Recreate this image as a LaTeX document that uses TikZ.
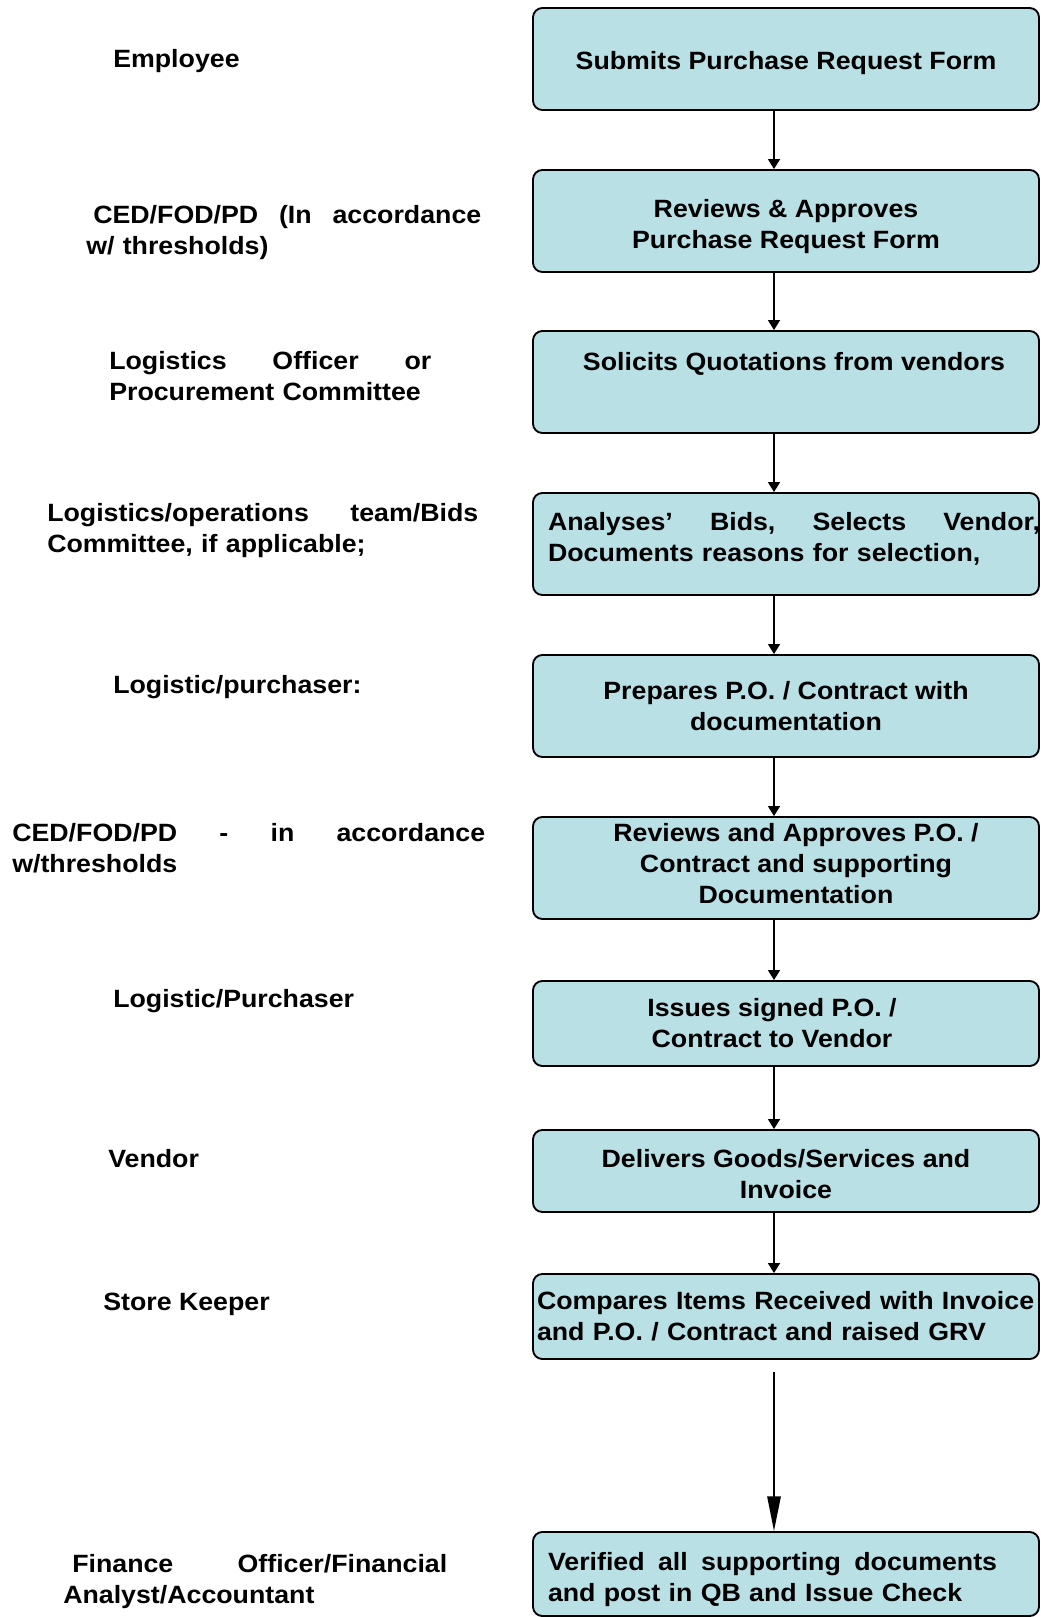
\documentclass[tikz,border=0pt]{standalone}
\usepackage{fontspec}
\setmainfont{Liberation Sans}[FakeStretch=1.07]
\usetikzlibrary{positioning, shapes.geometric, arrows.meta}
\definecolor{boxcyan}{RGB}{185,224,228}

\begin{document}
\begin{tikzpicture} [x=0.75pt, y=-0.75pt,
  stepbox/.style={rectangle, rounded corners=7pt, draw, line width=1.4pt, fill=boxcyan,
    minimum width=379.5pt, minimum height=76.5pt, inner sep=0pt, align=center,
    font=\bfseries\fontsize{18.75}{23.25}\selectfont},
  role/.style={anchor=north west, inner sep=0pt, align=left,
    font=\bfseries\fontsize{18.75}{23.25}\selectfont},
  flow/.style={-{Triangle[length=7.5pt, width=9pt]}, line width=1pt}]
  \useasboundingbox (0,0) rectangle (1040,1617);

  % who does it
  \draw (113,49)   node[role](emp) {Employee};
  \draw (86,205)   node[role, text width=296.25pt](ced) {\hspace*{5.25pt}CED/FOD/PD\hfill (In\hfill accordance\\w/ thresholds)};
  \draw (109,351)  node[role, text width=241.5pt](logoff) {Logistics\hfill Officer\hfill or\\Procurement Committee};
  \draw (47,503)   node[role, text width=323.25pt](logops) {Logistics/operations\hfill team/Bids\\Committee, if applicable;};
  \draw (113,675)  node[role](purch) {Logistic/purchaser:};
  \draw (12,823)   node[role, text width=354.75pt](cedtwo) {CED/FOD/PD\hfill -\hfill in\hfill accordance\\w/thresholds};
  \draw (113,989)  node[role](purchtwo) {Logistic/Purchaser};
  \draw (108,1149) node[role](vnd) {Vendor};
  \draw (103,1293) node[role](store) {Store Keeper};
  \draw (63,1554)  node[role, text width=288pt](fin) {\hspace*{6.75pt}Finance\hfill Officer/Financial\\Analyst/Accountant};

  % what is done
  \draw (786,59)     node[stepbox](submit) {\mbox{}\\[-3.5pt]Submits Purchase Request Form};
  \draw (786,221)    node[stepbox](review) {\mbox{}\\[-2pt]Reviews \& Approves\\Purchase Request Form};
  \draw (786,382)    node[stepbox](solicit) {\hspace*{12pt}Solicits Quotations from vendors\\[7pt]\mbox{}};
  \draw (786,544)    node[stepbox, text width=357pt, align=left](analyse) {\makebox[369pt][l]{Analyses’\hfill Bids,\hfill Selects\hfill Vendor,}\\Documents reasons for selection,\\[-12.8pt]\mbox{}};
  \draw (786,706)    node[stepbox](prepare) {Prepares P.O. / Contract with\\documentation};
  \draw (786,868)    node[stepbox](approve) {\hspace*{15pt}Reviews and Approves P.O. /\\\hspace*{15pt}Contract and supporting\\\hspace*{15pt}Documentation\\[-15.7pt]\mbox{}};
  \draw (786,1023.5) node[stepbox, minimum height=63.75pt](issue) {Issues signed P.O. /\hspace*{21pt}\\Contract to Vendor\hspace*{21pt}};
  \draw (786,1171)   node[stepbox, minimum height=61.5pt](deliver) {\mbox{}\\[-5.7pt]Delivers Goods/Services and\\Invoice};
  \draw (786,1316.5) node[stepbox, minimum height=63.75pt, text width=373.5pt, align=left](compare) {Compares Items Received with Invoice\\and P.O. / Contract and raised GRV};
  \draw (786,1574)   node[stepbox, minimum height=63pt, text width=357pt, align=left](verify) {\mbox{}\\[-1.3pt]\makebox[336.75pt][l]{Verified\hfill all\hfill supporting\hfill documents}\\and post in QB and Issue Check};
  \coordinate (grvout) at (774,1372);

\path ([xshift=-9pt]submit.south)  edge[flow] ([xshift=-9pt]review.north)
      ([xshift=-9pt]review.south)  edge[flow] ([xshift=-9pt]solicit.north)
      ([xshift=-9pt]solicit.south) edge[flow] ([xshift=-9pt]analyse.north)
      ([xshift=-9pt]analyse.south) edge[flow] ([xshift=-9pt]prepare.north)
      ([xshift=-9pt]prepare.south) edge[flow] ([xshift=-9pt]approve.north)
      ([xshift=-9pt]approve.south) edge[flow] ([xshift=-9pt]issue.north)
      ([xshift=-9pt]issue.south)   edge[flow] ([xshift=-9pt]deliver.north)
      ([xshift=-9pt]deliver.south) edge[flow] ([xshift=-9pt]compare.north)
      (grvout) edge[-{Triangle[length=26pt, width=10pt]}, line width=1.3pt] ([xshift=-9pt]verify.north);
\end{tikzpicture}
\end{document}
